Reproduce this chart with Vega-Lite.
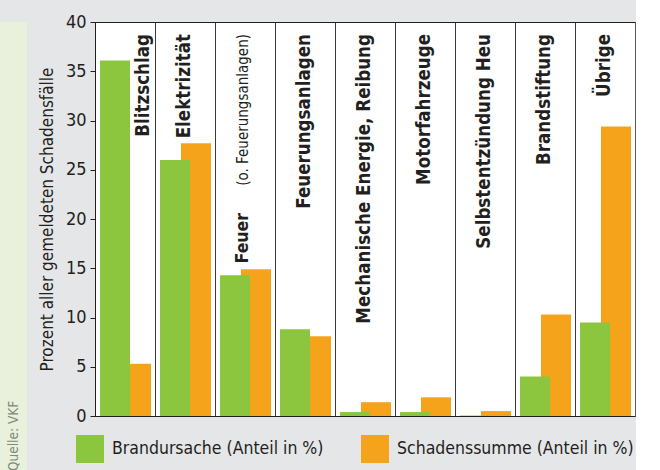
{
  "$schema": "https://vega.github.io/schema/vega-lite/v6.json",
  "padding": 0,
  "background": "#e5e6e8",
  "spacing": 10,
  "resolve": {"scale": {"color": "independent"}, "legend": {"color": "independent"}},
  "config": {"font": "DejaVu Sans Condensed, Roboto"},
  "datasets": {
    "bars": [
      {"cat": "Blitzschlag", "series": "Brandursache (Anteil in %)", "value": 36.1},
      {"cat": "Blitzschlag", "series": "Schadenssumme (Anteil in %)", "value": 5.3},
      {"cat": "Elektrizität", "series": "Brandursache (Anteil in %)", "value": 26.0},
      {"cat": "Elektrizität", "series": "Schadenssumme (Anteil in %)", "value": 27.7},
      {"cat": "Feuer", "series": "Brandursache (Anteil in %)", "value": 14.3},
      {"cat": "Feuer", "series": "Schadenssumme (Anteil in %)", "value": 14.9},
      {"cat": "Feuerungsanlagen", "series": "Brandursache (Anteil in %)", "value": 8.8},
      {"cat": "Feuerungsanlagen", "series": "Schadenssumme (Anteil in %)", "value": 8.1},
      {"cat": "Mechanische Energie, Reibung", "series": "Brandursache (Anteil in %)", "value": 0.4},
      {"cat": "Mechanische Energie, Reibung", "series": "Schadenssumme (Anteil in %)", "value": 1.4},
      {"cat": "Motorfahrzeuge", "series": "Brandursache (Anteil in %)", "value": 0.4},
      {"cat": "Motorfahrzeuge", "series": "Schadenssumme (Anteil in %)", "value": 1.9},
      {"cat": "Selbstentzündung Heu", "series": "Brandursache (Anteil in %)", "value": 0.05},
      {"cat": "Selbstentzündung Heu", "series": "Schadenssumme (Anteil in %)", "value": 0.5},
      {"cat": "Brandstiftung", "series": "Brandursache (Anteil in %)", "value": 4.0},
      {"cat": "Brandstiftung", "series": "Schadenssumme (Anteil in %)", "value": 10.3},
      {"cat": "Übrige", "series": "Brandursache (Anteil in %)", "value": 9.5},
      {"cat": "Übrige", "series": "Schadenssumme (Anteil in %)", "value": 29.4}
    ],
    "labels": [
      {"cat": "Blitzschlag", "label": "Blitzschlag", "note": ""},
      {"cat": "Elektrizität", "label": "Elektrizität", "note": ""},
      {"cat": "Feuer", "label": "Feuer", "note": "(o. Feuerungsanlagen)"},
      {"cat": "Feuerungsanlagen", "label": "Feuerungsanlagen", "note": ""},
      {"cat": "Mechanische Energie, Reibung", "label": "Mechanische Energie, Reibung", "note": ""},
      {"cat": "Motorfahrzeuge", "label": "Motorfahrzeuge", "note": ""},
      {"cat": "Selbstentzündung Heu", "label": "Selbstentzündung Heu", "note": ""},
      {"cat": "Brandstiftung", "label": "Brandstiftung", "note": ""},
      {"cat": "Übrige", "label": "Übrige", "note": ""}
    ],
    "source": [{"text": "Quelle: VKF"}]
  },
  "hconcat": [
    {
      "width": 27,
      "height": 470,
      "view": {"fill": "#e9f1dd", "stroke": null},
      "data": {"name": "source"},
      "mark": {"type": "text", "angle": 270, "align": "left", "baseline": "middle", "fontSize": 13.5, "color": "#7f8a7a", "dx": -214},
      "encoding": {"text": {"field": "text"}}
    },
    {
      "width": 540,
      "height": 394,
      "view": {"fill": "white", "stroke": "#5a5a5a", "strokeWidth": 1},
      "layer": [
        {
          "data": {"name": "bars"},
          "transform": [{"filter": "datum.series === 'Schadenssumme (Anteil in %)'"}],
          "mark": {"type": "bar", "width": 30, "xOffset": 11},
          "encoding": {
            "x": {"field": "cat", "type": "nominal", "sort": null,
              "scale": {"domain": ["Blitzschlag", "Elektrizität", "Feuer", "Feuerungsanlagen", "Mechanische Energie, Reibung", "Motorfahrzeuge", "Selbstentzündung Heu", "Brandstiftung", "Übrige"], "paddingInner": 0, "paddingOuter": 0},
              "axis": {"orient": "bottom", "title": null, "labels": false, "ticks": false, "grid": true, "bandPosition": 0, "gridColor": "#3c3c3c", "gridWidth": 1, "gridOpacity": 1, "domain": true, "domainColor": "#231f20", "domainWidth": 1}},
            "y": {
              "field": "value", "type": "quantitative",
              "scale": {"domain": [0, 40], "nice": false},
              "axis": {"title": "Prozent aller gemeldeten Schadensfälle", "titleFontSize": 17, "titleFontWeight": "normal", "titleColor": "#231f20", "titlePadding": 9, "values": [0, 5, 10, 15, 20, 25, 30, 35, 40], "grid": false, "labelFontSize": 18, "labelColor": "#231f20", "labelPadding": 4, "tickSize": 5, "tickColor": "#231f20", "domainColor": "#231f20"}
            },
            "color": {
              "field": "series", "type": "nominal",
              "scale": {"domain": ["Brandursache (Anteil in %)", "Schadenssumme (Anteil in %)"], "range": ["#8cc63f", "#f6a31c"]},
              "legend": {"title": null, "orient": "none", "legendX": -19, "legendY": 413, "direction": "horizontal", "symbolType": "square", "symbolSize": 784, "symbolStrokeWidth": 0, "symbolOpacity": 1, "labelFontSize": 17.5, "labelColor": "#231f20", "labelOffset": 8, "columnPadding": 37, "padding": 0, "labelLimit": 400}
            }
          }
        },
        {
          "data": {"name": "bars"},
          "transform": [{"filter": "datum.series === 'Brandursache (Anteil in %)'"}],
          "mark": {"type": "bar", "width": 30, "xOffset": -10},
          "encoding": {
            "x": {"field": "cat", "type": "nominal", "sort": null, "axis": null},
            "y": {"field": "value", "type": "quantitative"},
            "color": {"field": "series", "type": "nominal"}
          }
        },
        {
          "data": {"name": "labels"},
          "transform": [{"filter": "datum.cat !== 'Blitzschlag' && datum.cat !== 'Feuer'"}],
          "mark": {"type": "text", "angle": 270, "align": "right", "baseline": "middle", "fontSize": 18.6, "fontWeight": "bold", "color": "#231f20", "dx": -12, "xOffset": -1},
          "encoding": {
            "x": {"field": "cat", "type": "nominal", "sort": null, "axis": {"orient": "top", "title": null, "labels": false, "grid": false, "ticks": true, "tickSize": 21, "tickColor": "#e5e6e8", "domain": true, "domainColor": "#231f20", "domainWidth": 1}},
            "y": {"datum": 40, "type": "quantitative"},
            "text": {"field": "label"}
          }
        },
        {
          "data": {"name": "labels"},
          "transform": [{"filter": "datum.cat === 'Blitzschlag'"}],
          "mark": {"type": "text", "angle": 270, "align": "right", "baseline": "middle", "fontSize": 18.6, "fontWeight": "bold", "color": "#231f20", "dx": -12, "xOffset": 18},
          "encoding": {"x": {"field": "cat", "type": "nominal", "sort": null, "axis": null}, "y": {"datum": 40, "type": "quantitative"}, "text": {"field": "label"}}
        },
        {
          "data": {"name": "labels"},
          "transform": [{"filter": "datum.cat === 'Feuer'"}],
          "mark": {"type": "text", "angle": 270, "align": "right", "baseline": "middle", "fontSize": 17.5, "fontWeight": "bold", "color": "#231f20", "dx": -191, "xOffset": -2},
          "encoding": {"x": {"field": "cat", "type": "nominal", "sort": null, "axis": null}, "y": {"datum": 40, "type": "quantitative"}, "text": {"field": "label"}}
        },
        {
          "data": {"name": "labels"},
          "transform": [{"filter": "datum.cat === 'Feuer'"}],
          "mark": {"type": "text", "angle": 270, "align": "right", "baseline": "middle", "fontSize": 15, "fontWeight": "normal", "color": "#231f20", "dx": -12, "xOffset": -2},
          "encoding": {"x": {"field": "cat", "type": "nominal", "sort": null, "axis": null}, "y": {"datum": 40, "type": "quantitative"}, "text": {"field": "note"}}
        }
      ]
    }
  ]
}
